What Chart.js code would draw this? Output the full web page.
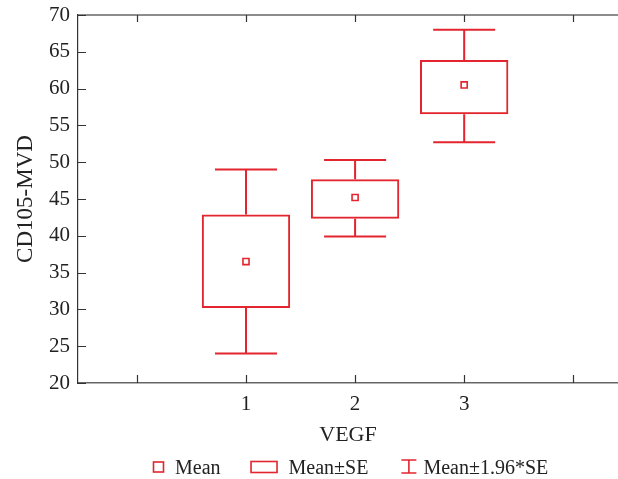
<!DOCTYPE html>
<html>
<head>
<meta charset="utf-8">
<script src="https://cdn.jsdelivr.net/npm/chart.js@4/dist/chart.umd.min.js"></script>
<style>
  html, body { margin: 0; padding: 0; background: #fff; }
  canvas { display: block; }
</style>
</head>
<body>
<canvas id="c" width="618" height="479"></canvas>
<script>
// ---- data ----
const categories = [1, 2, 3];
const means  = [36.5, 45.2, 60.5];
const seLow  = [30.2, 42.3, 56.5];
const seHigh = [42.9, 47.7, 63.9];
const ciLow  = [24.0, 39.9, 52.7];
const ciHigh = [49.0, 50.3, 68.0];
const xTickLabels = ['1', '2', '3'];
const legendLabels = ['Mean', 'Mean\u00b1SE', 'Mean\u00b11.96*SE'];
const xTitle = 'VEGF';
const yTitle = 'CD105-MVD';

const RED = '#e2252e';
const TEXT = '#222';
const FONT = "'Liberation Serif', 'Times New Roman', serif";

const frame = {
  id: 'frame',
  afterDatasetsDraw(chart) {
    const ctx = chart.ctx;
    const xs = chart.scales.x, ys = chart.scales.y;
    const a = chart.chartArea;
    // whiskers (Mean ± 1.96*SE)
    ctx.save();
    ctx.strokeStyle = RED;
    ctx.lineWidth = 2;
    categories.forEach((c, i) => {
      const px = xs.getPixelForValue(c);
      const yHi = ys.getPixelForValue(ciHigh[i]);
      const yBH = ys.getPixelForValue(seHigh[i]);
      const yBL = ys.getPixelForValue(seLow[i]);
      const yLo = ys.getPixelForValue(ciLow[i]);
      ctx.beginPath();
      ctx.moveTo(px, yHi); ctx.lineTo(px, yBH);
      ctx.moveTo(px, yBL); ctx.lineTo(px, yLo);
      ctx.moveTo(px - 31, yHi); ctx.lineTo(px + 31, yHi);
      ctx.moveTo(px - 31, yLo); ctx.lineTo(px + 31, yLo);
      ctx.stroke();
    });
    ctx.restore();

    // top frame line and inward ticks
    ctx.save();
    ctx.strokeStyle = '#666';
    ctx.lineWidth = 1.5;
    ctx.beginPath();
    ctx.moveTo(a.left, a.top); ctx.lineTo(a.right, a.top);
    ctx.stroke();
    ctx.lineWidth = 1.2;
    ctx.strokeStyle = '#333';
    ctx.beginPath();
    xs.ticks.forEach(t => {
      const px = Math.round(xs.getPixelForValue(t.value)) + 0.5;
      ctx.moveTo(px, a.bottom); ctx.lineTo(px, a.bottom - 8);
      ctx.moveTo(px, a.top); ctx.lineTo(px, a.top + 7);
    });
    ys.ticks.forEach(t => {
      const py = Math.round(ys.getPixelForValue(t.value)) + 0.5;
      ctx.moveTo(a.left, py); ctx.lineTo(a.left + 8, py);
    });
    ctx.stroke();
    ctx.restore();
  },
  afterDraw(chart) {
    // legend
    const ctx = chart.ctx;
    ctx.save();
    ctx.font = '20px ' + FONT;
    ctx.fillStyle = TEXT;
    ctx.textBaseline = 'alphabetic';
    ctx.strokeStyle = RED;
    ctx.lineWidth = 1.6;
    const cy = 467, base = 474;
    let x = 153;
    // Mean symbol
    ctx.strokeRect(x + 0.5, cy - 5, 10, 10);
    x += 22;
    ctx.fillText(legendLabels[0], x, base);
    x += ctx.measureText(legendLabels[0]).width + 30;
    // Box symbol
    ctx.strokeRect(x + 0.5, cy - 5.5, 26, 11);
    x += 38;
    ctx.fillText(legendLabels[1], x, base);
    x += ctx.measureText(legendLabels[1]).width + 33;
    // whisker symbol
    ctx.beginPath();
    ctx.moveTo(x + 7.5, cy - 7); ctx.lineTo(x + 7.5, cy + 6);
    ctx.moveTo(x, cy - 7); ctx.lineTo(x + 15, cy - 7);
    ctx.moveTo(x, cy + 6); ctx.lineTo(x + 15, cy + 6);
    ctx.stroke();
    x += 22;
    ctx.fillText(legendLabels[2], x, base);
    ctx.restore();
  }
};

new Chart(document.getElementById('c'), {
  type: 'bar',
  data: {
    datasets: [
      {
        type: 'line',
        label: legendLabels[0],
        data: categories.map((c, i) => ({ x: c, y: means[i] })),
        showLine: false,
        pointStyle: 'rect',
        pointRadius: 4.3,
        pointBorderWidth: 1.6,
        pointBorderColor: RED,
        pointBackgroundColor: '#fff',
        order: 1
      },
      {
        type: 'bar',
        label: legendLabels[1],
        data: categories.map((c, i) => ({ x: c, y: [seLow[i], seHigh[i]] })),
        backgroundColor: 'rgba(255,255,255,0)',
        borderColor: RED,
        borderWidth: 2,
        borderSkipped: false,
        barPercentage: 0.81,
        categoryPercentage: 1,
        order: 2
      }
    ]
  },
  options: {
    responsive: false,
    devicePixelRatio: 1,
    animation: false,
    events: [],
    layout: { autoPadding: false, padding: { top: 15, right: 0, bottom: 0, left: 0 } },
    plugins: { legend: { display: false }, tooltip: { enabled: false } },
    scales: {
      x: {
        type: 'linear',
        min: -0.54,
        max: 4.41,
        offset: false,
        afterFit(s) { s.height = 96; s.paddingLeft = 0; s.paddingRight = 0; },
        grid: { display: false, drawTicks: false, offset: false },
        border: { display: true, color: '#666', width: 1.5 },
        ticks: {
          stepSize: 1,
          includeBounds: false,
          autoSkip: false,
          maxRotation: 0,
          padding: 9,
          color: TEXT,
          font: { family: FONT, size: 21 },
          callback: (v) => xTickLabels.includes(String(v)) ? String(v) : ''
        },
        title: {
          display: true,
          text: xTitle,
          color: TEXT,
          font: { family: FONT, size: 22 },
          padding: { top: 0, bottom: 31 }
        }
      },
      y: {
        min: 20,
        max: 70,
        beginAtZero: false,
        afterFit(s) { s.width = 78; s.paddingTop = 0; s.paddingBottom = 0; },
        grid: { display: false, drawTicks: false },
        border: { display: true, color: '#333', width: 1.2 },
        ticks: {
          stepSize: 5,
          padding: 8,
          color: TEXT,
          font: { family: FONT, size: 21 }
        },
        title: {
          display: true,
          text: yTitle,
          color: TEXT,
          font: { family: FONT, size: 23 },
          padding: { top: 12, bottom: 0 }
        }
      }
    }
  },
  plugins: [frame]
});
</script>
</body>
</html>
